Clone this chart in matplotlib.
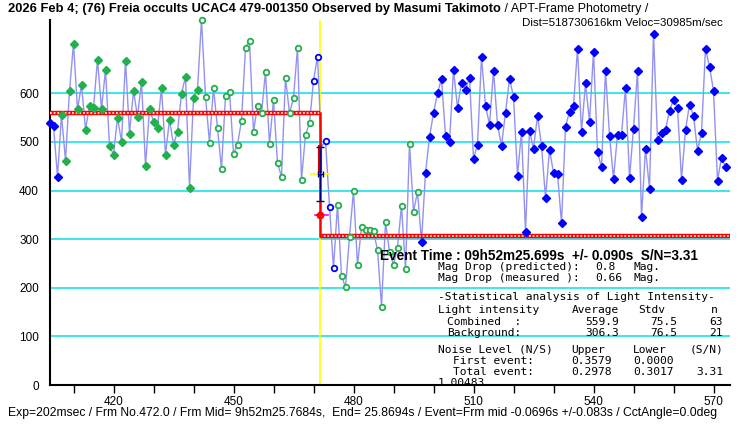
import numpy as np
import matplotlib
matplotlib.use('Agg')
import matplotlib.pyplot as plt

# light curve, one value per frame starting at frame 404
first_frame = 404
blue_pre = [539.8, 533.6, 428.7]
green_fill = [555.6, 461.6, 605.6, 702.3, 567.2, 618.0, 525.4, 574.8, 570.7, 669.4,
              567.2, 648.8, 492.4, 474.0, 550.0, 500.7, 667.4, 517.2, 605.6, 552.1,
              624.1, 451.3, 568.6, 541.8, 529.5, 611.8, 474.0, 546.0, 494.5, 521.3,
              599.5, 634.4, 406.0, 591.2, 607.7]
green_open1 = [751.7, 592.6, 498.6, 611.8, 529.5, 445.0, 594.7, 603.6, 476.0, 494.5,
               543.9, 694.1, 707.8, 521.3, 574.8, 559.0, 644.7, 495.9, 587.1, 456.8,
               428.7, 632.4, 559.0, 591.2, 694.1, 422.5, 515.1, 539.1]
blue_open1 = [626.2, 675.6]
hidden = [490.0]
blue_open2 = [502.7, 366.9, 240.0]
green_open2 = [371.0, 225.0, 201.0, 305.2, 399.8, 246.9, 324.4, 318.9, 318.9, 316.2,
               277.8, 161.2, 334.5, 274.3, 247.3, 282.6, 369.0, 238.7, 496.6, 356.7,
               397.8]
blue_post = [294.9, 436.9, 509.6, 560.3, 600.1, 630.3, 513.0, 500.7, 648.8, 570.7,
             622.1, 607.7, 632.4, 465.7, 494.5, 675.6, 574.8, 535.7, 646.8, 535.7,
             492.4, 560.3, 630.3, 593.3, 430.7, 521.3, 315.5, 523.3, 486.3, 554.2,
             492.4, 385.4, 484.2, 436.9, 435.0, 332.6, 531.5, 562.4, 574.8, 692.0,
             521.3, 620.7, 541.8, 685.9, 480.1, 447.9, 646.8, 513.0, 424.6, 515.1,
             515.1, 611.8, 426.6, 527.4, 646.8, 346.4, 486.3, 404.0, 723.0, 504.8,
             519.2, 525.4, 564.5, 587.1, 570.7, 422.5, 525.4, 576.8, 554.2, 482.2,
             519.2, 692.0, 655.0, 605.6, 420.4, 467.8, 449.2]

segments = [(blue_pre, 'bf'), (green_fill, 'gf'), (green_open1, 'go'),
            (blue_open1, 'bo'), (hidden, None), (blue_open2, 'bo'),
            (green_open2, 'go'), (blue_post, 'bf')]

# fit results
frame_no = 472.0
exposure = 0.202
event_offset = -0.0696
level_high = 559.9
level_low = 306.3
err_mid = 434
err_top = 490
err_bot = 379
drop_mark = 349

event_frame = frame_no + event_offset / exposure

flux = []
for vals, kind in segments:
    flux += vals
frames = np.arange(first_frame, first_frame + len(flux))

BLUE = '#0000ff'
GREEN = '#22b04c'
LINE = '#9292f2'
CYAN = '#19e3ea'

fig = plt.figure(figsize=(7.4, 4.25), dpi=100)
ax = fig.add_axes([50/740, 40/425, 680/740, 365/425])
x0, x1 = 404.125, 574.125
ax.set_xlim(x0, x1)
ax.set_ylim(0, 751)

ax.set_yticks(range(0, 700, 100))
ax.yaxis.grid(True, color=CYAN, lw=1.2)
ax.set_axisbelow(True)
ax.set_xticks(range(420, 571, 30))
ax.set_xticks(range(410, 571, 10), minor=True)
ax.tick_params(axis='y', length=0, pad=8, labelsize=8.5)
ax.tick_params(axis='x', which='both', length=6, width=1, direction='out', labelsize=8.5, pad=2)
for lab in ax.get_xticklabels() + ax.get_yticklabels():
    lab.set_family('Liberation Sans')
ax.spines['top'].set_visible(False)
ax.spines['right'].set_visible(False)
ax.spines['left'].set_linewidth(1.5)
ax.spines['bottom'].set_linewidth(1.5)

# event line
ax.axvline(event_frame, color='#ffff00', lw=1.2, zorder=1)

# light curve
ax.plot(frames, flux, color=LINE, lw=1.0, zorder=2)
start = 0
for vals, kind in segments:
    xs = frames[start:start + len(vals)]
    start += len(vals)
    if kind is None:
        continue
    col = BLUE if kind[0] == 'b' else GREEN
    if kind[1] == 'f':
        ax.plot(xs, vals, ls='none', marker='D', ms=4.2, color=col, zorder=4, clip_on=False)
    else:
        ax.plot(xs, vals, ls='none', marker='o', ms=4, mfc='white', mec=col,
                mew=1.3, zorder=4, clip_on=False)

# model step
for xa, xb, lv in [(x0, event_frame, level_high), (event_frame, x1, level_low)]:
    ax.plot([xa, xb], [lv, lv], color='red', lw=3.2, solid_capstyle='butt', zorder=3)
    ax.plot([xa, xb], [lv, lv], color='white', lw=1.1, ls=(0, (1.2, 1.2)), zorder=3)
ax.plot([event_frame, event_frame], [level_high, level_low], color='red', lw=1.8, zorder=5)
ax.plot([event_frame, event_frame], [err_top, err_mid], color='#d00000', lw=3, zorder=5)

# event time error marks
ax.plot([event_frame - 2.3, event_frame + 2.2], [err_mid, err_mid], color='#ffff00', lw=1.2, zorder=5)
ax.errorbar(event_frame, err_mid, yerr=[[err_mid - err_bot], [err_top - err_mid]],
            fmt='none', ecolor='#000080', capsize=3, elinewidth=1, zorder=6)
ax.errorbar(event_frame, err_mid, xerr=0.6, fmt='none', ecolor='#000080',
            capsize=2.5, elinewidth=1, zorder=6)
ax.plot([event_frame - 1.3, event_frame + 2.0], [drop_mark, drop_mark], color='#ff00ff', lw=1.2, zorder=5)
ax.plot(event_frame, drop_mark, marker='o', ms=4, mfc='none', mec='red', mew=1.5, zorder=6)
ax.plot(event_frame, drop_mark, marker='+', ms=6, color='red', mew=1.2, zorder=6)


def fx(px):
    return px / 740


def fy(py):
    return 1 - py / 425


renderer = fig.canvas.get_renderer()


def fit(t, width_px):
    w = t.get_window_extent(renderer).width
    t.set_fontsize(t.get_fontsize() * width_px / w)


# header
t1 = fig.text(fx(8), fy(9), '2026 Feb 4; (76) Freia occults UCAC4 479-001350 Observed by Masumi Takimoto',
              fontweight='bold', family='Liberation Sans', fontsize=9, va='center')
fit(t1, 496)
t1_end = t1.get_window_extent(renderer).x1
t2 = fig.text(t1_end / 740, fy(9), ' / APT-Frame Photometry /', family='Liberation Sans', fontsize=9, va='center')
fit(t2, 146)
t3 = fig.text(fx(723), fy(22.5), 'Dist=518730616km Veloc=30985m/sec', family='Liberation Sans',
              fontsize=9, va='center', ha='right')
fit(t3, 199)

fig.text(fx(380), fy(256.5), 'Event Time : 09h52m25.699s  +/- 0.090s  S/N=3.31',
         fontweight='bold', family='Liberation Sans', fontsize=9.8, va='center', zorder=10)

t5 = fig.text(fx(8), fy(413), 'Exp=202msec / Frm No.472.0 / Frm Mid= 9h52m25.7684s,  End= 25.8694s / '
              'Event=Frm mid -0.0696s +/-0.083s / CctAngle=0.0deg', family='Liberation Sans',
              fontsize=9, va='center')
fit(t5, 709)

# statistics block
mono = dict(family='DejaVu Sans Mono', fontsize=8.1, va='center')
stats_rows = [
    (267, [(438, 'Mag Drop (predicted):', 'left'), (595, '0.8', 'left'), (633, 'Mag.', 'left')]),
    (278, [(438, 'Mag Drop (measured ):', 'left'), (595, '0.66', 'left'), (633, 'Mag.', 'left')]),
    (297, [(438, '-Statistical analysis of Light Intensity-', 'left')]),
    (310, [(438, 'Light intensity', 'left'), (571.7, 'Average', 'left'), (638, 'Stdv', 'left'), (718, 'n', 'right')]),
    (322, [(446.7, 'Combined  :', 'left'), (585, '559.9', 'left'), (650, '75.5', 'left'), (723, '63', 'right')]),
    (333, [(446.7, 'Background:', 'left'), (585, '306.3', 'left'), (650, '76.5', 'left'), (723, '21', 'right')]),
    (350, [(438, 'Noise Level (N/S)', 'left'), (571.7, 'Upper', 'left'), (633, 'Lower', 'left'), (723, '(S/N)', 'right')]),
    (361, [(453, 'First event:', 'left'), (571.7, '0.3579', 'left'), (633, '0.0000', 'left')]),
    (372, [(453, 'Total event:', 'left'), (571.7, '0.2978', 'left'), (633, '0.3017', 'left'), (723, '3.31', 'right')]),
    (383, [(438, '1.00483', 'left')]),
]
for py, items in stats_rows:
    for px, s, ha in items:
        fig.text(fx(px), fy(py), s, ha=ha, zorder=10, **mono)

fig.savefig('out.png', dpi=100)
